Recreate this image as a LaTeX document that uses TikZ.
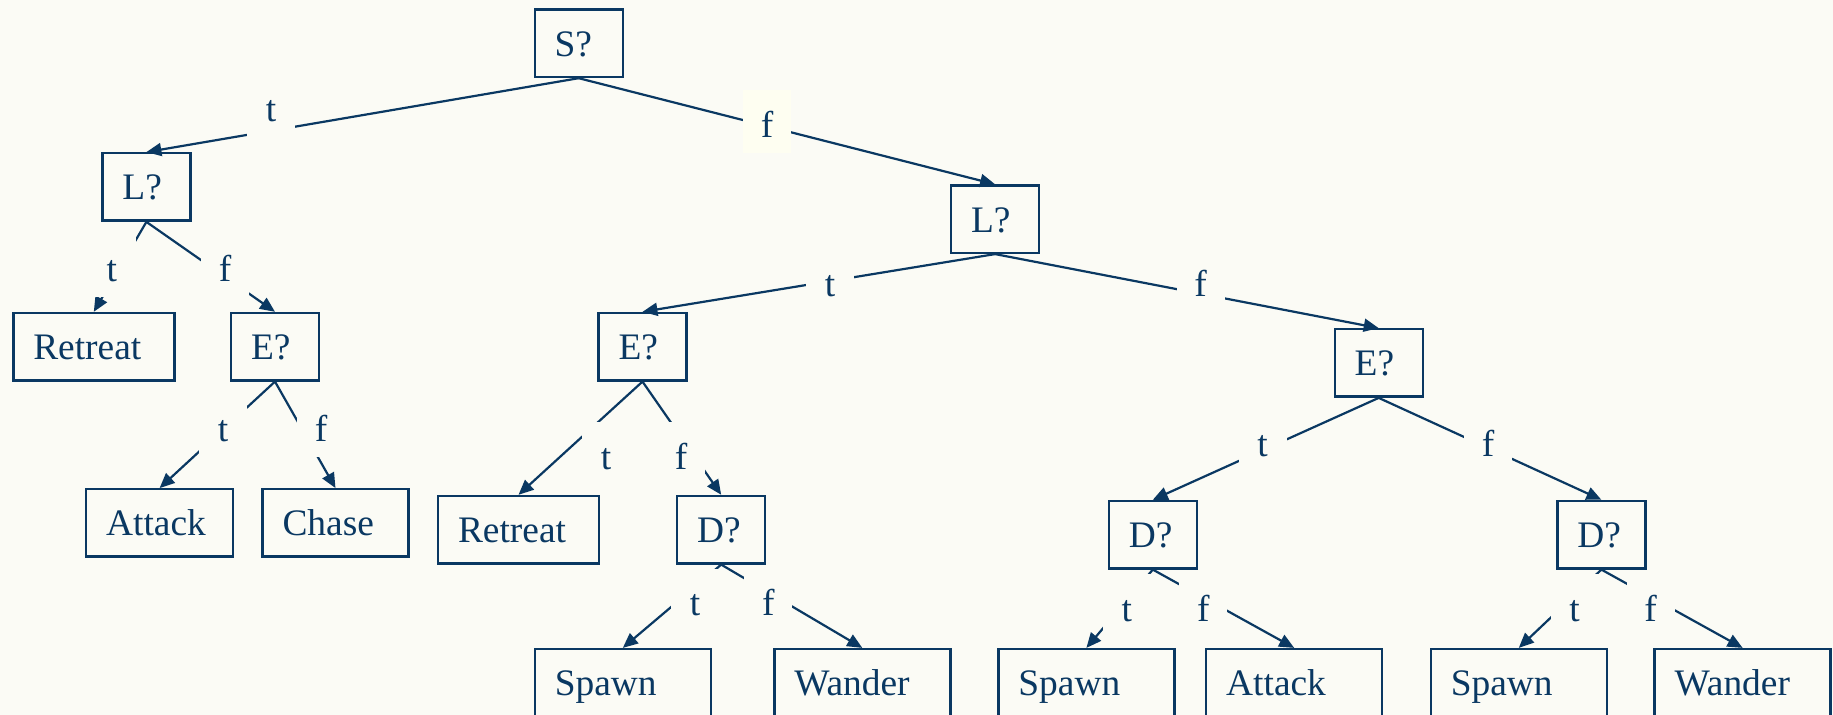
\documentclass[tikz,border=0pt]{standalone}
\usepackage{fontspec}
\setmainfont{Liberation Serif}
\usetikzlibrary{arrows.meta}
\definecolor{bleu}{RGB}{10,56,98}
\definecolor{fond}{RGB}{251,251,245}
\definecolor{fondetiq}{RGB}{254,254,241}

\begin{document}
\begin{tikzpicture}[x=0.5pt, y=-0.5pt]
\tikzset{question/.style={draw=bleu, line width=1.2pt, text=bleu, font=\fontsize{18.7}{22}\selectfont, minimum height=33.7pt, inner xsep=10pt, inner ysep=0pt, text height=13pt, text depth=0pt, align=left, text width=24pt}}
\tikzset{action/.style={question, text width=#1}}
\tikzset{etiq/.style={fill=fond, text=bleu, font=\fontsize{18.7}{22}\selectfont, inner sep=0pt, minimum width=24pt, text height=23.5pt, text depth=7.7pt, anchor=base}}
\tikzset{fleche/.style={draw=bleu, line width=1.1pt, -{Triangle[length=7.5pt, width=6.5pt]}}}
\useasboundingbox (0,0) rectangle (1833,715);
\clip (0,0) rectangle (1833,715);
\fill[fond] (0,0) rectangle (1833,715);
\node[question] (S) at (578.7,43.3) {S?};
\node[question] (L1) at (146.4,187) {L?};
\node[question] (L2) at (995.1,219.2) {L?};
\node[action=60.5pt] (R1) at (93.8,346.7) {Retreat};
\node[question] (E1) at (275,346.7) {E?};
\node[question] (E2) at (642.5,346.7) {E?};
\node[question] (E3) at (1378.7,363) {E?};
\node[action=53.4pt] (A1) at (159.6,523) {Attack};
\node[action=53pt] (C1) at (335.5,523) {Chase};
\node[action=60.5pt] (R2) at (518.5,529.7) {Retreat};
\node[question] (D1) at (721.2,529.7) {D?};
\node[question] (D2) at (1152.8,534.7) {D?};
\node[question] (D3) at (1601.4,534.7) {D?};
\node[action=68pt] (S1) at (622.8,682.8) {Spawn};
\node[action=68pt] (W1) at (862.3,682.8) {Wander};
\node[action=68pt] (S2) at (1086.4,682.8) {Spawn};
\node[action=68pt] (A2) at (1294.2,682.8) {Attack};
\node[action=68pt] (S3) at (1518.8,682.8) {Spawn};
\node[action=68pt] (W3) at (1742.6,682.8) {Wander};
\draw[fleche] (S.south) -- (L1.north);
\draw[fleche] (S.south) -- (L2.north);
\draw[fleche] (L1.south) -- (R1.north);
\draw[fleche] (L1.south) -- (E1.north);
\draw[fleche] (E1.south) -- (A1.north);
\draw[fleche] (E1.south) -- (C1.north);
\draw[fleche] (L2.south) -- (E2.north);
\draw[fleche] (L2.south) -- (E3.north);
\draw[fleche] (E2.south) -- (R2.north);
\draw[fleche] (E2.south) -- (D1.north);
\draw[fleche] (E3.south) -- (D2.north);
\draw[fleche] (E3.south) -- (D3.north);
\draw[fleche] (D1.south) -- (S1.north);
\draw[fleche] (D1.south) -- (W1.north);
\draw[fleche] (D2.south) -- (S2.north);
\draw[fleche] (D2.south) -- (A2.north);
\draw[fleche] (D3.south) -- (S3.north);
\draw[fleche] (D3.south) -- (W3.north);
% etiquettes vrai / faux
\node[etiq] (tS) at (271,121.7) {t};
\node[etiq, fill=fondetiq] (fS) at (767,137.3) {f};
\node[etiq] (tL1) at (111.7,281.7) {t};
\node[etiq] (fL1) at (225,281.7) {f};
\node[etiq] (tE1) at (223,441.5) {t};
\node[etiq] (fE1) at (321,441.5) {f};
\node[etiq] (tL2) at (830,296.7) {t};
\node[etiq] (fL2) at (1200.5,296.7) {f};
\node[etiq] (tE2) at (606,469.3) {t};
\node[etiq] (fE2) at (681,469.3) {f};
\node[etiq] (tE3) at (1262.6,456.5) {t};
\node[etiq] (fE3) at (1488,456.5) {f};
\node[etiq] (tD1) at (695,616) {t};
\node[etiq] (fD1) at (768.3,616) {f};
\node[etiq] (tD2) at (1126.7,621.5) {t};
\node[etiq] (fD2) at (1203.3,621.5) {f};
\node[etiq] (tD3) at (1574.5,621.5) {t};
\node[etiq] (fD3) at (1650.7,621.5) {f};
\end{tikzpicture}
\end{document}
